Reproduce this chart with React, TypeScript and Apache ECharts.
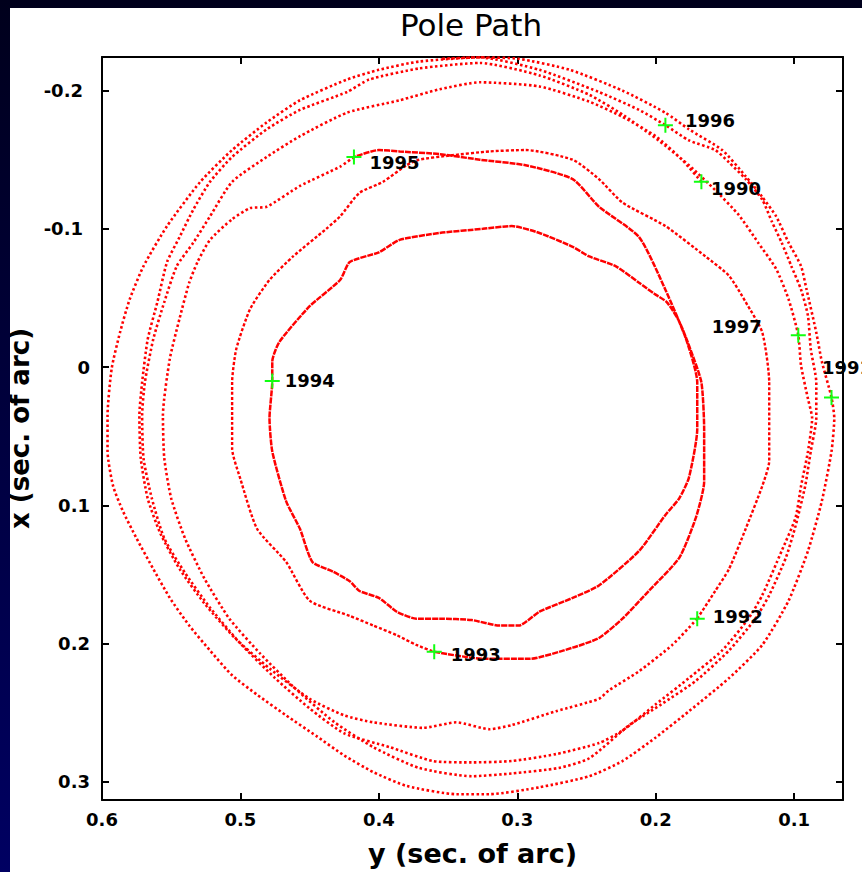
import React, { useEffect, useRef } from 'react';
import * as echarts from 'echarts';

// ---- text ----
const chartTitle = 'Pole Path';
const horizontalAxisName = 'y (sec. of arc)';
const verticalAxisName = 'x (sec. of arc)';

// ---- axis ranges (sec. of arc) ----
const yRange = [0.0647, 0.6]; // horizontal axis, drawn inverted
const xRange = [-0.2243, 0.3132]; // vertical axis, drawn inverted

// ---- pole path, [y, x] pairs in time order ----
const path1990to1992 = [
  [0.167, -0.134], [0.181, -0.150], [0.200, -0.167], [0.224, -0.181], [0.248, -0.192], [0.284, -0.203],
  [0.327, -0.206], [0.356, -0.201], [0.385, -0.193], [0.423, -0.184], [0.457, -0.167], [0.481, -0.152],
  [0.506, -0.134], [0.522, -0.109], [0.534, -0.090], [0.546, -0.073], [0.555, -0.047], [0.563, -0.020],
  [0.569, 0.011], [0.571, 0.035], [0.570, 0.066], [0.564, 0.095], [0.555, 0.124], [0.540, 0.149],
  [0.522, 0.174], [0.500, 0.200], [0.475, 0.225], [0.450, 0.247], [0.425, 0.265], [0.392, 0.275],
  [0.361, 0.285], [0.333, 0.286], [0.304, 0.285], [0.272, 0.280], [0.241, 0.272], [0.224, 0.263],
  [0.200, 0.244], [0.176, 0.225], [0.152, 0.205], [0.133, 0.182], [0.123, 0.165], [0.109, 0.133],
  [0.099, 0.109], [0.095, 0.086], [0.090, 0.061], [0.087, 0.037], [0.090, 0.023], [0.095, -0.001],
  [0.097, -0.023], [0.104, -0.049], [0.113, -0.071], [0.126, -0.090], [0.140, -0.110], [0.157, -0.128],
  [0.176, -0.146], [0.198, -0.164], [0.223, -0.182], [0.248, -0.197], [0.284, -0.211], [0.327, -0.220],
  [0.371, -0.216], [0.407, -0.208], [0.423, -0.199], [0.457, -0.186], [0.481, -0.172], [0.506, -0.152],
  [0.522, -0.134], [0.534, -0.114], [0.544, -0.094], [0.553, -0.076], [0.560, -0.047], [0.567, -0.020],
  [0.571, 0.011], [0.573, 0.035], [0.572, 0.066], [0.567, 0.095], [0.558, 0.120], [0.544, 0.146],
  [0.526, 0.171], [0.504, 0.196], [0.479, 0.218], [0.450, 0.240], [0.425, 0.252], [0.404, 0.257],
  [0.368, 0.261], [0.344, 0.257], [0.320, 0.262], [0.304, 0.259], [0.272, 0.249], [0.241, 0.240],
  [0.234, 0.234], [0.212, 0.220], [0.188, 0.201], [0.170, 0.182],
];

const path1992to1993 = [
  [0.170, 0.182], [0.157, 0.162], [0.147, 0.146], [0.135, 0.117], [0.123, 0.086], [0.118, 0.068],
  [0.118, 0.037], [0.118, 0.011], [0.123, -0.025], [0.135, -0.047], [0.147, -0.066], [0.164, -0.080],
  [0.193, -0.102], [0.224, -0.119], [0.241, -0.136], [0.260, -0.150], [0.294, -0.157], [0.320, -0.156],
  [0.349, -0.153], [0.371, -0.150], [0.380, -0.146], [0.397, -0.134], [0.414, -0.126], [0.428, -0.109],
  [0.438, -0.100], [0.462, -0.080], [0.479, -0.063], [0.493, -0.042], [0.503, -0.013], [0.506, 0.011],
  [0.506, 0.035], [0.506, 0.059], [0.500, 0.081], [0.488, 0.117], [0.467, 0.141], [0.450, 0.169],
  [0.421, 0.180], [0.404, 0.187], [0.387, 0.194], [0.373, 0.201], [0.360, 0.206],
];

const path1993to1995 = [
  [0.360, 0.206], [0.325, 0.211], [0.291, 0.211], [0.260, 0.203], [0.241, 0.196], [0.224, 0.182],
  [0.205, 0.162], [0.183, 0.138], [0.171, 0.109], [0.165, 0.083], [0.165, 0.045], [0.167, 0.011],
  [0.175, -0.013], [0.183, -0.033], [0.192, -0.047], [0.201, -0.053], [0.212, -0.061], [0.229, -0.073],
  [0.248, -0.080], [0.260, -0.087], [0.284, -0.097], [0.304, -0.102], [0.325, -0.100], [0.356, -0.097],
  [0.385, -0.092], [0.400, -0.083], [0.421, -0.076], [0.428, -0.063], [0.450, -0.044], [0.472, -0.018],
  [0.477, -0.004], [0.477, 0.010], [0.479, 0.037], [0.477, 0.061], [0.467, 0.097], [0.457, 0.117],
  [0.448, 0.141], [0.433, 0.148], [0.421, 0.155], [0.414, 0.162], [0.400, 0.167], [0.387, 0.177],
  [0.373, 0.182], [0.356, 0.182], [0.333, 0.183], [0.313, 0.187], [0.299, 0.187], [0.284, 0.177],
  [0.260, 0.167], [0.241, 0.158], [0.212, 0.133], [0.193, 0.107], [0.183, 0.095], [0.176, 0.080],
  [0.170, 0.045], [0.170, 0.011], [0.178, -0.020], [0.193, -0.056], [0.212, -0.094], [0.241, -0.116],
  [0.260, -0.136], [0.294, -0.146], [0.327, -0.150], [0.356, -0.154], [0.385, -0.156], [0.400, -0.157],
  [0.418, -0.152],
];

const path1995toEnd = [
  [0.418, -0.152], [0.428, -0.145], [0.457, -0.131], [0.481, -0.116], [0.493, -0.115], [0.506, -0.107],
  [0.522, -0.092], [0.531, -0.076], [0.537, -0.061], [0.544, -0.035], [0.551, -0.006], [0.556, 0.035],
  [0.555, 0.066], [0.550, 0.095], [0.540, 0.124], [0.526, 0.153], [0.508, 0.182], [0.486, 0.207],
  [0.461, 0.232], [0.432, 0.257], [0.404, 0.275], [0.371, 0.290], [0.333, 0.296], [0.304, 0.294],
  [0.270, 0.290], [0.248, 0.283], [0.219, 0.259], [0.196, 0.244], [0.171, 0.227], [0.147, 0.205],
  [0.128, 0.182], [0.118, 0.165], [0.106, 0.138], [0.099, 0.115], [0.092, 0.086], [0.088, 0.061],
  [0.084, 0.037], [0.084, 0.011], [0.088, -0.013], [0.090, -0.037], [0.095, -0.056], [0.102, -0.073],
  [0.109, -0.090], [0.116, -0.105], [0.123, -0.121], [0.135, -0.136], [0.147, -0.148], [0.157, -0.157],
  [0.176, -0.164], [0.193, -0.175], [0.212, -0.186], [0.241, -0.199], [0.284, -0.215], [0.327, -0.224],
  [0.371, -0.221], [0.400, -0.215], [0.423, -0.208], [0.457, -0.193], [0.481, -0.177], [0.506, -0.157],
  [0.529, -0.134], [0.553, -0.102], [0.570, -0.073], [0.580, -0.049], [0.587, -0.025], [0.593, 0.001],
  [0.596, 0.035], [0.596, 0.061], [0.592, 0.086], [0.585, 0.104], [0.575, 0.124], [0.563, 0.146],
  [0.551, 0.167], [0.537, 0.187], [0.522, 0.205], [0.506, 0.223], [0.488, 0.237], [0.467, 0.252],
  [0.445, 0.267], [0.425, 0.281], [0.404, 0.293], [0.380, 0.303], [0.344, 0.309], [0.320, 0.309],
  [0.284, 0.304], [0.248, 0.296], [0.224, 0.285], [0.200, 0.268], [0.176, 0.249], [0.147, 0.225],
  [0.123, 0.201], [0.104, 0.169], [0.090, 0.133], [0.080, 0.097], [0.073, 0.061], [0.071, 0.037],
  [0.073, 0.022], [0.080, -0.004], [0.084, -0.025], [0.091, -0.056], [0.095, -0.073], [0.104, -0.090],
  [0.113, -0.109], [0.123, -0.123], [0.135, -0.138], [0.152, -0.157], [0.176, -0.172], [0.193, -0.184],
  [0.224, -0.200], [0.262, -0.215], [0.299, -0.223], [0.327, -0.224], [0.356, -0.223],
];

// ---- year marks ----
const markYears = ['1990', '1991', '1992', '1993', '1994', '1995', '1996', '1997'];
const markY = [0.167, 0.073, 0.170, 0.360, 0.477, 0.418, 0.193, 0.097];
const markX = [-0.134, 0.022, 0.182, 0.206, 0.010, -0.152, -0.175, -0.023];

// label placement relative to the right edge of the mark (style, not data)
const labelPlacement: Record<string, { offset: number[]; align: string }> = {
  '1990': { offset: [2, 7], align: 'left' },
  '1991': { offset: [-17, -30], align: 'left' },
  '1992': { offset: [8, -2], align: 'left' },
  '1993': { offset: [9, 3], align: 'left' },
  '1994': { offset: [5, 0], align: 'left' },
  '1995': { offset: [8, 6], align: 'left' },
  '1996': { offset: [12, -5], align: 'left' },
  '1997': { offset: [-44, -9], align: 'right' },
};

const FONT = '"DejaVu Sans", Verdana, sans-serif';
const RED = '#ff0000';

function isTenth(v: number) {
  return Math.abs(v * 10 - Math.round(v * 10)) < 1e-6;
}

function buildOption(): any {
  const pathSeries = (data: number[][], dash: number[], width: number) => ({
    type: 'line',
    data,
    symbol: 'none',
    showSymbol: false,
    smooth: 0.2,
    silent: true,
    z: 2,
    xAxisIndex: 0,
    yAxisIndex: 0,
    lineStyle: { color: RED, width, type: dash, cap: 'butt' },
  });

  const tickStyle = { show: true, inside: true, length: 7, lineStyle: { color: '#000', width: 2 } };
  const lineStyle = { show: true, onZero: false, lineStyle: { color: '#000', width: 2 } };
  const labelFont = { fontFamily: FONT, fontWeight: 'bold', fontSize: 18, color: '#000' };

  return {
    animation: false,
    backgroundColor: '#ffffff',
    grid: { left: 92, right: 19, top: 49, bottom: 72, containLabel: false, outerBoundsMode: 'none' },
    graphic: [
      {
        type: 'text',
        x: 461,
        y: 17,
        silent: true,
        style: {
          text: chartTitle,
          fill: '#000',
          fontFamily: FONT,
          fontSize: 31,
          fontWeight: 'normal',
          align: 'center',
          verticalAlign: 'middle',
        },
      },
    ],
    xAxis: [
      {
        type: 'value',
        position: 'bottom',
        inverse: true,
        min: yRange[0],
        max: yRange[1],
        splitNumber: 5,
        axisLine: lineStyle,
        axisTick: tickStyle,
        splitLine: { show: false },
        axisLabel: {
          ...labelFont,
          margin: 10,
          showMinLabel: false,
          formatter: (v: number) => (isTenth(v) ? (Math.round(v * 10) / 10).toFixed(1) : ''),
        },
        name: horizontalAxisName,
        nameLocation: 'middle',
        nameGap: 40,
        nameTextStyle: { fontFamily: FONT, fontWeight: 'bold', fontSize: 27, color: '#000' },
      },
      {
        type: 'value',
        position: 'top',
        inverse: true,
        min: yRange[0],
        max: yRange[1],
        splitNumber: 5,
        axisLine: lineStyle,
        axisTick: tickStyle,
        splitLine: { show: false },
        axisLabel: { show: false },
      },
    ],
    yAxis: [
      {
        type: 'value',
        position: 'left',
        inverse: true,
        min: xRange[0],
        max: xRange[1],
        splitNumber: 5,
        axisLine: lineStyle,
        axisTick: tickStyle,
        splitLine: { show: false },
        axisLabel: {
          margin: 12,
          showMinLabel: false,
          showMaxLabel: false,
          formatter: (v: number) => {
            if (!isTenth(v)) return '';
            const r = Math.round(v * 10);
            if (r === 0) return '{p|0}';
            const s = (r / 10).toFixed(1);
            return r < 0 ? '{n|' + s + '}' : '{p|' + s + '}';
          },
          rich: {
            p: { ...labelFont },
            n: { ...labelFont, padding: [0, 7, 0, 0] },
          },
        },
        name: verticalAxisName,
        nameLocation: 'middle',
        nameGap: 54,
        nameRotate: 90,
        nameTextStyle: { fontFamily: FONT, fontWeight: 'bold', fontSize: 26, color: '#000' },
      },
      {
        type: 'value',
        position: 'right',
        inverse: true,
        min: xRange[0],
        max: xRange[1],
        splitNumber: 5,
        axisLine: lineStyle,
        axisTick: tickStyle,
        splitLine: { show: false },
        axisLabel: { show: false },
      },
    ],
    series: [
      pathSeries(path1990to1992, [2.5, 2.5], 2.6),
      pathSeries(path1992to1993, [3, 2], 2.4),
      pathSeries(path1993to1995, [6, 1], 2.5),
      pathSeries(path1995toEnd, [2.5, 2.5], 2.6),
      {
        type: 'scatter',
        xAxisIndex: 0,
        yAxisIndex: 0,
        z: 5,
        silent: true,
        symbol: 'path://M6.5,0H8.5V6.5H15V8.5H8.5V15H6.5V8.5H0V6.5H6.5Z',
        symbolSize: 15,
        itemStyle: { color: '#11ff11', opacity: 1 },
        data: markYears.map((yr, i) => ({
          name: yr,
          value: [markY[i], markX[i]],
          label: {
            show: true,
            position: 'right',
            distance: 0,
            formatter: yr,
            align: labelPlacement[yr].align,
            verticalAlign: 'middle',
            offset: labelPlacement[yr].offset,
            fontFamily: FONT,
            fontWeight: 'bold',
            fontSize: 18,
            color: '#000000',
            opacity: 1,
            textBorderWidth: 0,
          },
        })),
      },
    ],
  };
}

export default function App() {
  const ref = useRef<HTMLDivElement>(null);
  useEffect(() => {
    if (!ref.current) return;
    const chart = echarts.init(ref.current, undefined, { renderer: 'svg' });
    chart.setOption(buildOption());
    return () => chart.dispose();
  }, []);
  return (
    <div
      style={{
        position: 'fixed',
        left: 0,
        top: 0,
        width: 862,
        height: 872,
        overflow: 'hidden',
        background: 'linear-gradient(to bottom, #00001c, #000062)',
      }}
    >
      <div
        ref={ref}
        style={{ position: 'absolute', left: 10, top: 8, width: 852, height: 864, background: '#ffffff' }}
      />
    </div>
  );
}
